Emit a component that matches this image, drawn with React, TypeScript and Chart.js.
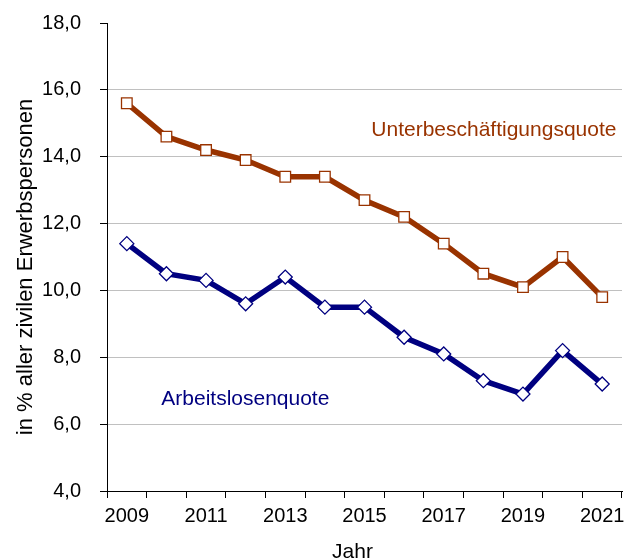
import React, { useEffect, useRef } from 'react';
import { Chart, registerables } from 'chart.js';

Chart.register(...registerables);

// ---- data ----
const years = ['2009', '2010', '2011', '2012', '2013', '2014', '2015', '2016', '2017', '2018', '2019', '2020', '2021'];
const arbeitslosenquote = [11.4, 10.5, 10.3, 9.6, 10.4, 9.5, 9.5, 8.6, 8.1, 7.3, 6.9, 8.2, 7.2];
const unterbeschaeftigungsquote = [15.6, 14.6, 14.2, 13.9, 13.4, 13.4, 12.7, 12.2, 11.4, 10.5, 10.1, 11.0, 9.8];
const seriesNames = ['Arbeitslosenquote', 'Unterbeschäftigungsquote'];
const yMin = 4;
const yMax = 18;
const yStep = 2;
const yAxisTitle = 'in % aller zivilen Erwerbspersonen';
const xAxisTitle = 'Jahr';

const FAMILY = '"Liberation Sans", Arial, Helvetica, sans-serif';
const BLUE = '#000080';
const ORANGE = '#993300';

// series label anchors in data units (category index, value)
const labelAnchors = [
  { x: 0.87, y: 6.57, align: 'left' as CanvasTextAlign },
  { x: 12.36, y: 14.62, align: 'right' as CanvasTextAlign },
];

const textPlugin = {
  id: 'textPlugin',
  afterDraw(chart: any) {
    const { ctx, chartArea, scales } = chart;
    const xs = scales.x;
    const ys = scales.y;
    ctx.save();
    ctx.font = `21px ${FAMILY}`;
    ctx.textBaseline = 'alphabetic';
    chart.data.datasets.forEach((ds: any, i: number) => {
      const a = labelAnchors[i];
      ctx.fillStyle = ds.borderColor;
      ctx.textAlign = a.align;
      ctx.fillText(ds.label, xs.getPixelForValue(a.x), ys.getPixelForValue(a.y));
    });
    // axis titles
    ctx.fillStyle = '#000';
    ctx.textAlign = 'center';
    ctx.fillText(xAxisTitle, (chartArea.left + chartArea.right) / 2 - 12, chart.height - 2);
    ctx.translate(chartArea.left - 75, (chartArea.top + chartArea.bottom) / 2 + 10);
    ctx.rotate(-Math.PI / 2);
    ctx.font = `22px ${FAMILY}`;
    ctx.fillText(yAxisTitle, 0, 0);
    ctx.restore();
  },
};

export default function App() {
  const ref = useRef<HTMLCanvasElement>(null);
  useEffect(() => {
    if (!ref.current) return;
    const chart = new Chart(ref.current, {
      type: 'line',
      data: {
        labels: years,
        datasets: [
          {
            label: seriesNames[0],
            data: arbeitslosenquote,
            borderColor: BLUE,
            backgroundColor: BLUE,
            borderWidth: 5.5,
            pointStyle: 'rectRot',
            pointRadius: 7,
            pointBorderWidth: 1.3,
            pointBorderColor: BLUE,
            pointBackgroundColor: '#ffffff',
            tension: 0,
          },
          {
            label: seriesNames[1],
            data: unterbeschaeftigungsquote,
            borderColor: ORANGE,
            backgroundColor: ORANGE,
            borderWidth: 5.5,
            pointStyle: 'rect',
            pointRadius: 7.5,
            pointBorderWidth: 1.3,
            pointBorderColor: ORANGE,
            pointBackgroundColor: '#ffffff',
            tension: 0,
          },
        ],
      },
      options: {
        responsive: false,
        animation: false,
        devicePixelRatio: 1,
        layout: { padding: { top: 23, right: 14, left: 0, bottom: 0 } },
        plugins: {
          legend: { display: false },
          tooltip: { enabled: false },
        },
        scales: {
          x: {
            type: 'category',
            offset: true,
            afterFit: (s: any) => {
              s.height = 69;
              s.paddingLeft = 0;
              s.paddingRight = 0;
            },
            grid: {
              offset: true,
              drawOnChartArea: false,
              drawTicks: true,
              tickLength: 7,
              tickColor: '#000',
            },
            border: { display: true, color: '#000', width: 1 },
            ticks: {
              autoSkip: false,
              maxRotation: 0,
              padding: 6,
              color: '#000',
              font: { family: FAMILY, size: 20 },
              callback: (_v: any, i: number) => (i % 2 === 0 ? years[i] : ''),
            },
          },
          y: {
            min: yMin,
            max: yMax,
            afterFit: (s: any) => {
              s.width = 107;
              s.paddingTop = 0;
              s.paddingBottom = 0;
            },
            grid: {
              color: (c: any) => (c.tick && c.tick.value === yMax ? 'rgba(0,0,0,0)' : '#c0c0c0'),
              lineWidth: 1,
              drawTicks: true,
              tickLength: 7,
              tickColor: '#000',
            },
            border: { display: true, color: '#000', width: 1 },
            ticks: {
              stepSize: yStep,
              padding: 19,
              color: '#000',
              font: { family: FAMILY, size: 20 },
              callback: (v: any) => Number(v).toFixed(1).replace('.', ','),
            },
          },
        },
      },
      plugins: [textPlugin],
    } as any);
    return () => chart.destroy();
  }, []);
  return (
    <div style={{ position: 'absolute', left: 0, top: 0, width: 636, height: 560, background: '#fff' }}>
      <canvas ref={ref} width={636} height={560} />
    </div>
  );
}
